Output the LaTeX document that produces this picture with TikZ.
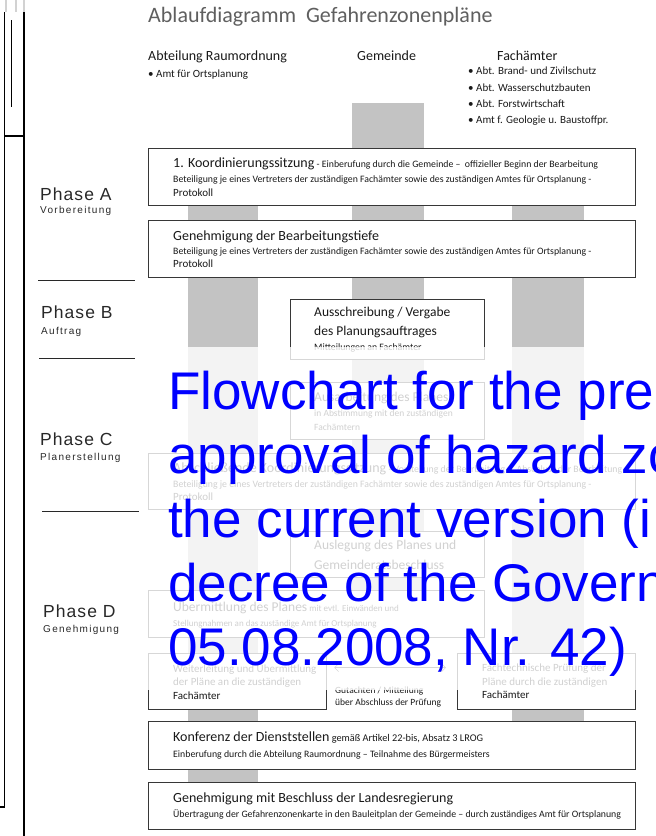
\documentclass[tikz,border=0pt]{standalone}
\usepackage{fontspec}
\setmainfont{Carlito}
\newfontfamily\phasefont{Liberation Sans}[LetterSpace=6]
\newfontfamily\phasesubfont{Liberation Sans}[LetterSpace=13]
\newfontfamily\notefont{Liberation Sans}
\usetikzlibrary{positioning,arrows.meta}

\definecolor{barcol}{RGB}{195,195,195}
\definecolor{framecol}{RGB}{55,55,55}
\definecolor{titlecol}{RGB}{95,95,95}
\definecolor{phasecol}{RGB}{40,40,40}
\definecolor{txtcol}{RGB}{25,25,25}
\definecolor{notecol}{RGB}{0,0,255}

\newcommand\boxhead[1]{{\fontsize{14}{15}\selectfont #1}}
\newcommand\midhead[1]{{\fontsize{13.5}{15}\selectfont #1}}
\newcommand\protline{{\fontsize{11}{12}\selectfont Protokoll}}

\begin{document}
\begin{tikzpicture}[x=1pt, y=-1pt,
  frame/.style={draw=framecol, line width=1.2pt, fill=white, anchor=north west, inner sep=0pt},
  boxtext/.style={align=left, inner sep=0pt, text=txtcol, font=\fontsize{9.8}{15}\selectfont},
  bar/.style={fill=barcol},
  header/.style={anchor=base west, inner sep=0pt, text=txtcol, font=\fontsize{14}{16}\selectfont},
  phase/.style={anchor=base west, inner sep=0pt, text=phasecol, font=\phasefont\fontsize{17.5}{18}\selectfont},
  phasesub/.style={anchor=base west, inner sep=0pt, text=phasecol, font=\phasesubfont\fontsize{10}{12}\selectfont},
  divider/.style={draw=phasecol, line width=1pt},
  edge/.style={draw=black, line width=1.5pt},
  note/.style={align=left, inner sep=0pt, text=notecol, font=\notefont\fontsize{53}{64}\selectfont}]
  \useasboundingbox (0,0) rectangle (656,836);

  % left page edge
  \draw[gray!35, line width=2pt] (6,0) -- (6,12);
  \draw[gray!35, line width=2pt] (16,0) -- (16,12);
  \draw[gray!35, line width=2pt] (24,0) -- (24,12);
  \draw[edge] (4.5,12) -- (4.5,807) -- (0,807);
  \draw[edge] (24,12) -- (24,836);
  \draw[edge] (4.5,136) -- (24,136);
  \draw[black, line width=0.7pt] (11.5,20) -- (11.5,107);

  % title and columns
  \node[anchor=base west, inner sep=0pt, text=titlecol, font=\fontsize{22}{24}\selectfont] (title) at (148,22) {Ablaufdiagramm\ \ Gefahrenzonenpläne};
  \node[header] (raum) at (148,60) {Abteilung Raumordnung};
  \node[anchor=base west, inner sep=0pt, text=txtcol, font=\fontsize{11}{16}\selectfont] (ortsplan) at (148,77) {• Amt für Ortsplanung};
  \node[header] (gemeinde) at (357,60) {Gemeinde};
  \node[header] (fach) at (497,60) {Fachämter};
  \node[anchor=north west, align=left, inner sep=0pt, text=txtcol, font=\fontsize{11}{16.3}\selectfont] (fachlist) at (468,67)
    {• Abt. Brand- und Zivilschutz\\• Abt. Wasserschutzbauten\\• Abt. Forstwirtschaft\\• Amt f. Geologie u. Baustoffpr.};

  % gray columns
  \fill[bar] (352,103) rectangle (424,590);
  \fill[bar] (188,148) rectangle (258,782);
  \fill[bar] (512,148) rectangle (584,721);

  % phases
  \node[phase] (pa) at (40,200) {Phase A};
  \node[phasesub] (pasub) at (40,213) {Vorbereitung};
  \draw[divider] (38,280) -- (135,280);
  \node[phase] (pb) at (41,318) {Phase B};
  \node[phasesub] (pbsub) at (41,334) {Auftrag};
  \draw[divider] (39,358) -- (135,358);
  \node[phase] (pc) at (40,445) {Phase C};
  \node[phasesub] (pcsub) at (40,460.5) {Planerstellung};
  \draw[divider] (42,511) -- (139,511);
  \node[phase] (pd) at (43,617) {Phase D};
  \node[phasesub] (pdsub) at (43,632.5) {Genehmigung};

  % boxes
  \node[frame, minimum width=487pt, minimum height=57pt] (koord) at (148,148) {};
  \node[boxtext, right=25pt of koord.west] (koordtxt)
    {\boxhead{1. Koordinierungssitzung} - Einberufung durch die Gemeinde –\ \ offizieller Beginn der Bearbeitung\\[0pt]
     Beteiligung je eines Vertreters der zuständigen Fachämter sowie des zuständigen Amtes für Ortsplanung -\\[-1pt]
     \protline};

  \node[frame, minimum width=487pt, minimum height=57pt] (tiefe) at (148,220) {};
  \node[boxtext, right=25pt of tiefe.west] (tiefetxt)
    {\boxhead{Genehmigung der Bearbeitungstiefe}\\[-1pt]
     Beteiligung je eines Vertreters der zuständigen Fachämter sowie des zuständigen Amtes für Ortsplanung -\\[-2pt]
     \protline};

  \node[frame, minimum width=194pt, minimum height=60pt] (vergabe) at (290,299) {};
  \node[boxtext, right=24pt of vergabe.west, font=\fontsize{13.5}{19}\selectfont] (vergabetxt)
    {Ausschreibung / Vergabe\\des Planungsauftrages\\[-4pt]
     {\fontsize{9.8}{10}\selectfont Mitteilungen an Fachämter}};

  \node[frame, minimum width=194pt, minimum height=57pt] (ausarb) at (290,382) {};
  \node[boxtext, right=24pt of ausarb.west, font=\fontsize{9.5}{14}\selectfont] (ausarbtxt)
    {\midhead{Ausarbeitung des Planes}\\[1pt]in Abstimmung mit den zuständigen\\Fachämtern};

  \node[frame, minimum width=487pt, minimum height=56pt] (abschl) at (148,453) {};
  \node[boxtext, right=25pt of abschl.west] (abschltxt)
    {\boxhead{Abschließende Koordinierungssitzung} - Vorstellung der Bearbeitung –\ \ Abschluss der Bearbeitung\\[0pt]
     Beteiligung je eines Vertreters der zuständigen Fachämter sowie des zuständigen Amtes für Ortsplanung -\\[-2pt]
     \protline};

  \node[frame, minimum width=194pt, minimum height=46pt] (auslegung) at (290,531) {};
  \node[boxtext, right=24pt of auslegung.west, font=\fontsize{13.5}{20}\selectfont] (auslegungtxt)
    {Auslegung des Planes und\\Gemeinderatsbeschluss};

  \node[frame, minimum width=336pt, minimum height=47pt] (uebermittl) at (148,590) {};
  \node[boxtext, right=25pt of uebermittl.west, font=\fontsize{9}{15}\selectfont] (uebermittltxt)
    {\midhead{Übermittlung des Planes} mit evtl. Einwänden und\\Stellungnahmen an das zuständige Amt für Ortsplanung};

  \node[frame, minimum width=178pt, minimum height=56pt] (weiterl) at (148,653) {};
  \node[boxtext, right=25pt of weiterl.west, font=\fontsize{11}{13.5}\selectfont] (weiterltxt)
    {Weiterleitung und Übermittlung\\der Pläne an die zuständigen\\Fachämter};

  \node[frame, minimum width=178pt, minimum height=56pt] (pruefung) at (457,653) {};
  \node[boxtext, right=25pt of pruefung.west, font=\fontsize{11}{13.5}\selectfont] (pruefungtxt)
    {Fachtechnische Prüfung der\\Pläne durch die zuständigen\\Fachämter};

  \draw[{Straight Barb[length=4pt]}-{Straight Barb[length=4pt]}, framecol, line width=0.6pt,
    shorten <=7pt, shorten >=11pt] ([yshift=14pt]weiterl.east) -- ([yshift=14pt]pruefung.west);
  \node[boxtext, anchor=north west, font=\fontsize{9.5}{12}\selectfont] (gutachten) at (335,687)
    {Gutachten / Mitteilung\\über Abschluss der Prüfung};

  \node[frame, minimum width=487pt, minimum height=48pt] (konferenz) at (148,721) {};
  \node[boxtext, right=25pt of konferenz.west, font=\fontsize{9.8}{16}\selectfont] (konferenztxt)
    {\boxhead{Konferenz der Dienststellen} {\fontsize{10.3}{12}\selectfont gemäß Artikel 22-bis, Absatz 3 LROG}\\
     Einberufung durch die Abteilung Raumordnung – Teilnahme des Bürgermeisters};

  \node[frame, minimum width=487pt, minimum height=47pt] (beschluss) at (148,782) {};
  \node[boxtext, right=25pt of beschluss.west, font=\fontsize{9.8}{15.5}\selectfont] (beschlusstxt)
    {\boxhead{Genehmigung mit Beschluss der Landesregierung}\\
     Übertragung der Gefahrenzonenkarte in den Bauleitplan der Gemeinde – durch zuständiges Amt für Ortsplanung};

  % faded part
  \fill[white, opacity=0.8] (140,347) rectangle (656,690);

  % caption on top
  \node[note, anchor=north west] (caption) at (168,371)
    {Flowchart for the pre\\approval of hazard zo\\the current version (i\\decree of the Govern\\05.08.2008, Nr. 42)};
\end{tikzpicture}
\end{document}
